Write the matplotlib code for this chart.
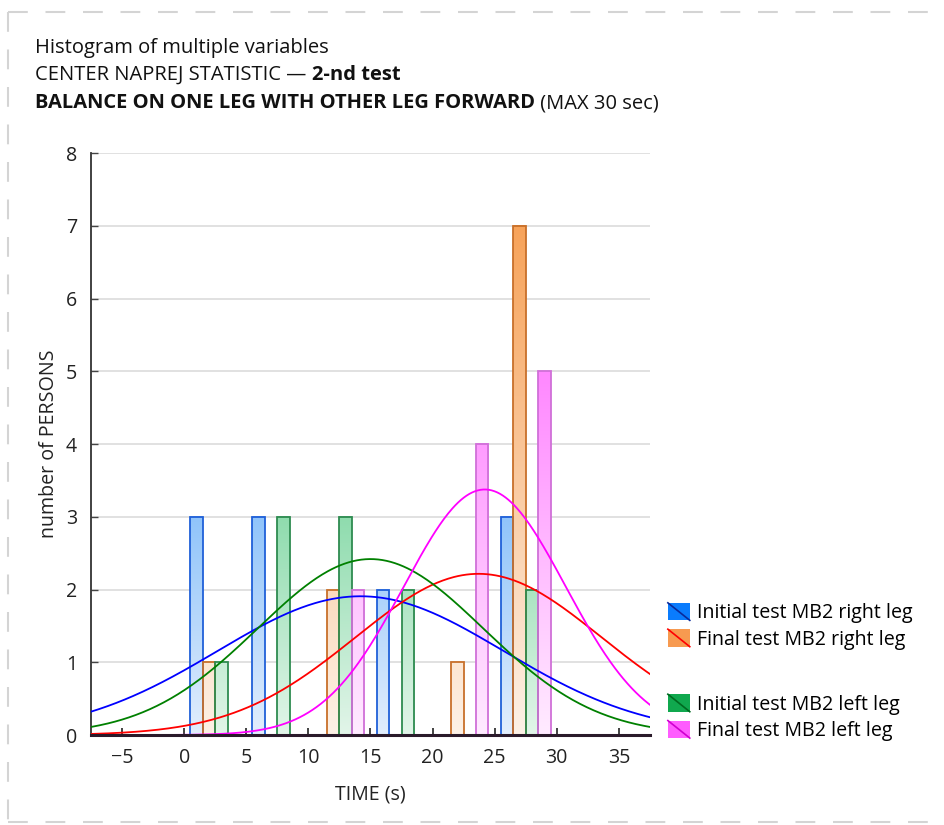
import numpy as np
import matplotlib
matplotlib.use("Agg")
import matplotlib.pyplot as plt
from matplotlib.colors import to_rgb
from matplotlib.lines import Line2D
from matplotlib.patches import Rectangle
from matplotlib.legend_handler import HandlerBase

plt.rcParams['font.family'] = ['Open Sans', 'DejaVu Sans']
FS = 14.1
TITLE_FS = 14.5

# histogram counts per 5 s bin
bin_centers = [2.5, 7.5, 12.5, 17.5, 22.5, 27.5]
series_names = ["Initial test MB2 right leg", "Final test MB2 right leg",
                "Initial test MB2 left leg", "Final test MB2 left leg"]
counts_init_right = [3, 3, 0, 2, 0, 3]
counts_final_right = [1, 0, 2, 0, 1, 7]
counts_init_left = [1, 3, 3, 2, 0, 2]
counts_final_left = [0, 0, 2, 0, 4, 5]

# fitted normal curves (mean, sd) for each series
fit_mean = [14.2, 23.7, 15.0, 24.2]
fit_sd = [11.5, 9.9, 9.07, 6.5]
bin_width = 5

bar_top = ['#90c4fa', '#f7a35a', '#8fdcae', '#ff88ff']
bar_bottom = ['#e2eefd', '#fdf1e6', '#e2f5e9', '#ffebff']
bar_edge = ['#2060d8', '#c8702a', '#2e8b50', '#d070d8']
curve_col = ['#0000ff', '#ff0000', '#008000', '#ff00ff']
key_face = ['#0a7cfd', '#f79a50', '#10a84e', '#ff5cff']
key_line = ['#0a2a9a', '#ff0000', '#006a20', '#d000d0']

all_counts = [counts_init_right, counts_final_right, counts_init_left, counts_final_left]

fig = plt.figure(figsize=(9.45, 8.25), dpi=100)
ax = fig.add_axes([0.0963, 0.109, 0.5915, 0.7055])

offsets = [-1.5, -0.5, 0.5, 1.5]
for k, counts in enumerate(all_counts):
    top = np.array(to_rgb(bar_top[k]))
    bot = np.array(to_rgb(bar_bottom[k]))
    cmax = max(counts)
    for c, n in zip(bin_centers, counts):
        if n == 0:
            continue
        x0 = c + offsets[k] - 0.5
        # vertical gradient, light at 0 and full colour at the series maximum
        frac = np.linspace(0, n / cmax, 100)[:, None]
        img = (bot + (top - bot) * frac)[:, None, :]
        ax.imshow(img, extent=(x0, x0 + 1, 0, n), origin='lower', aspect='auto',
                  interpolation='bilinear', zorder=1)
        ax.add_patch(Rectangle((x0, 0), 1, n, fill=False, edgecolor=bar_edge[k],
                               lw=1.3, zorder=2))

xs = np.linspace(-7.5, 37.5, 400)
for k, counts in enumerate(all_counts):
    n = sum(counts)
    ys = n * bin_width / (fit_sd[k] * np.sqrt(2 * np.pi)) * np.exp(-(xs - fit_mean[k]) ** 2 / (2 * fit_sd[k] ** 2))
    ax.plot(xs, ys, color=curve_col[k], lw=1.3, zorder=3)

ax.set_xlim(-7.5, 37.5)
ax.set_ylim(0, 8)
ax.set_xticks(np.arange(-5, 40, 5))
ax.set_yticks(np.arange(0, 9, 1))
ax.grid(axis='y', color='#dcdcdc', lw=1.2, zorder=0)
ax.set_axisbelow(True)
for s in ['top', 'right']:
    ax.spines[s].set_visible(False)
ax.spines['left'].set_color('#333333')
ax.spines['left'].set_linewidth(1.3)
ax.spines['bottom'].set_color('#2a1a2a')
ax.spines['bottom'].set_linewidth(2.2)
ax.spines['bottom'].set_zorder(4)
ax.tick_params(axis='x', direction='in', length=5, width=1.2, color='#222222',
               labelsize=FS, pad=9, labelcolor='#222222')
ax.tick_params(axis='y', direction='in', length=5, width=1.0, color='#444444',
               labelsize=FS, pad=10, labelcolor='#222222')
ax.set_xlabel("TIME (s)", fontsize=FS, color='#222222', labelpad=12)
ax.set_ylabel("number of PERSONS", fontsize=FS, color='#222222', labelpad=5)


class SwatchKey:
    def __init__(self, face, line):
        self.face = face
        self.line = line


class SwatchHandler(HandlerBase):
    def create_artists(self, legend, orig_handle, xdescent, ydescent, width, height, fontsize, trans):
        r = Rectangle((-xdescent, -ydescent), width, height, facecolor=orig_handle.face,
                      edgecolor='none', transform=trans)
        l = Line2D([-xdescent, -xdescent + width], [-ydescent + height, -ydescent],
                   color=orig_handle.line, lw=1.2, transform=trans)
        return [r, l]


keys = [SwatchKey(key_face[k], key_line[k]) for k in range(4)]
leg_kw = dict(frameon=False, fontsize=FS, handlelength=1.12, handleheight=1.0,
              handletextpad=0.36, labelspacing=0.3, borderaxespad=0, borderpad=0,
              handler_map={SwatchKey: SwatchHandler()}, loc='center left')
leg1 = ax.legend(keys[:2], series_names[:2], bbox_to_anchor=(1.032, 0.187), **leg_kw)
ax.add_artist(leg1)
ax.legend(keys[2:], series_names[2:], bbox_to_anchor=(1.032, 0.030), **leg_kw)


def text_line(x, y, parts, size):
    renderer = fig.canvas.get_renderer()
    for s, weight in parts:
        t = fig.text(x, y, s, fontsize=size, fontweight=weight, va='center', ha='left',
                     color='#111111')
        x += t.get_window_extent(renderer).width / fig.bbox.width


text_line(35 / 945, 1 - 48 / 825, [("Histogram of multiple variables", 'normal')], TITLE_FS)
text_line(35 / 945, 1 - 75 / 825, [("CENTER NAPREJ STATISTIC \u2014 ", 'normal'),
                                    ("2-nd test", 'bold')], TITLE_FS)
text_line(35 / 945, 1 - 103 / 825, [("BALANCE ON ONE LEG WITH OTHER LEG FORWARD", 'bold'),
                                     (" (MAX 30 sec)", 'normal')], TITLE_FS)

# dashed frame round the figure
frame_kw = dict(color='#d4d4d4', lw=1.5, linestyle=(0, (9.5, 8.5)), transform=fig.transFigure)
fig.add_artist(Line2D([8 / 945, 1.0], [1 - 12 / 825, 1 - 12 / 825], **frame_kw))
fig.add_artist(Line2D([8 / 945, 8 / 945], [1 - 12 / 825, 3 / 825], **frame_kw))
fig.add_artist(Line2D([8 / 945, 1.0], [3 / 825, 3 / 825], **frame_kw))

fig.savefig("out.png", dpi=100, facecolor='white')
